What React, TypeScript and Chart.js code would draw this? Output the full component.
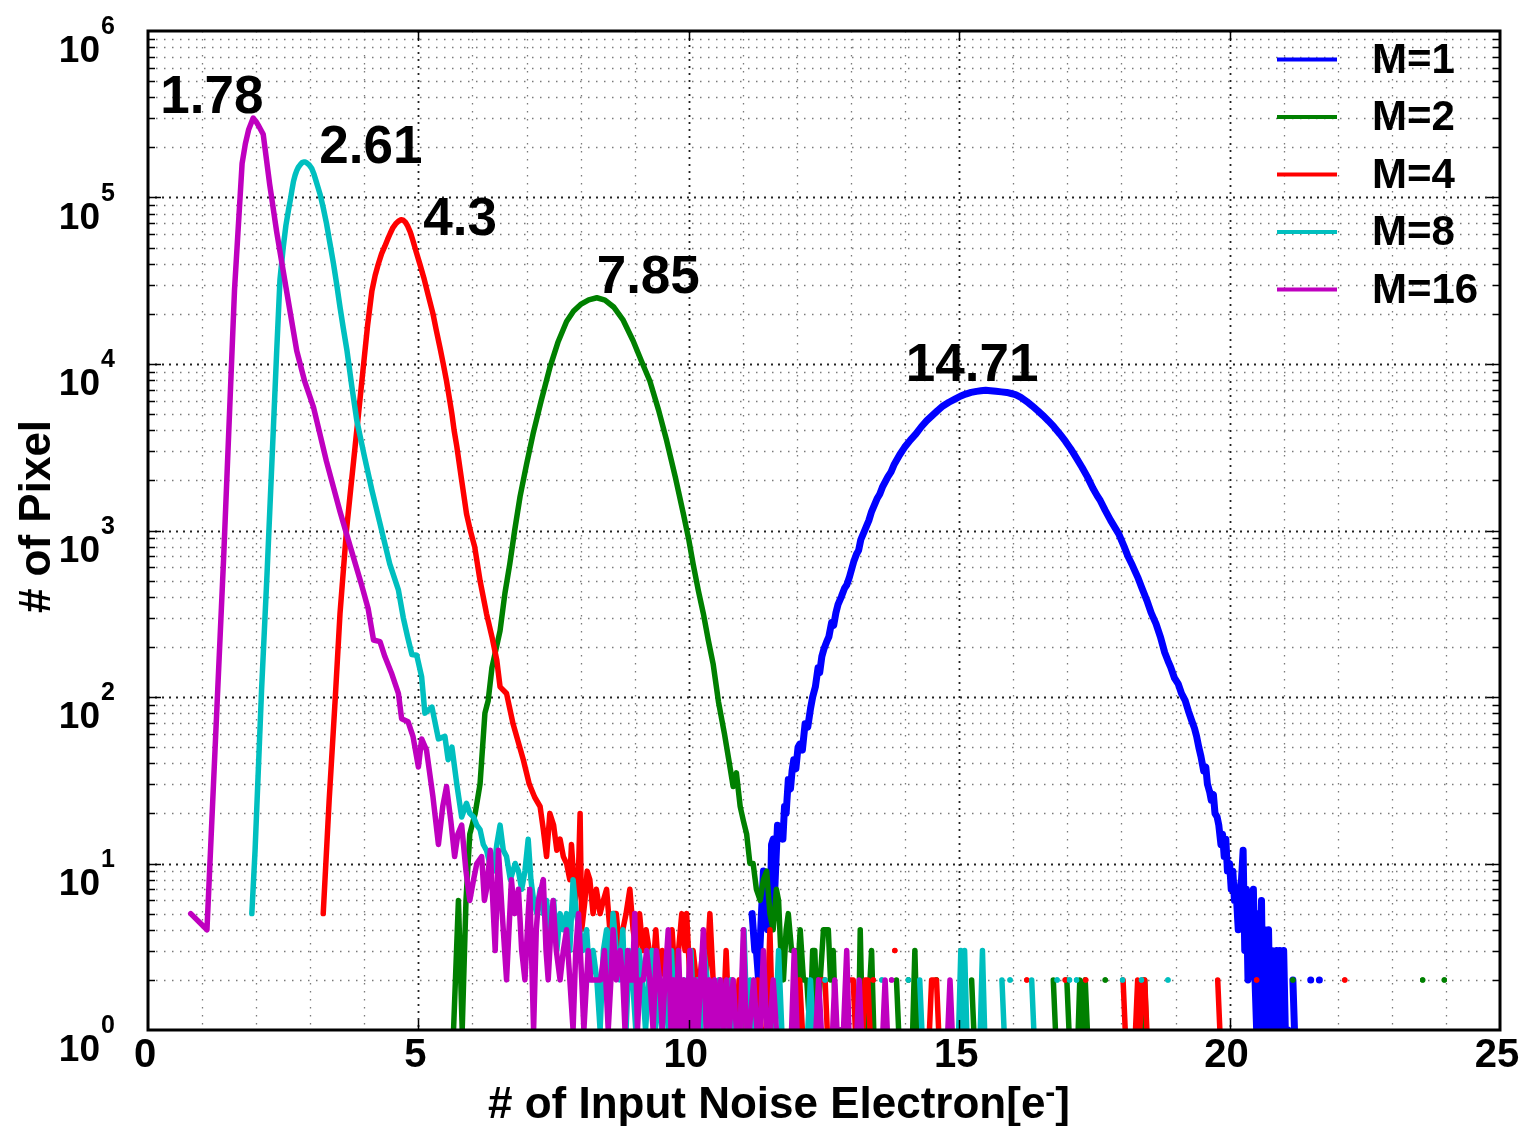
import React, { useEffect, useRef } from 'react';
import { Chart, registerables } from 'chart.js';

Chart.register(...registerables);

const W = 1527;
const H = 1126;
const FONT = '"Liberation Sans", Arial, Helvetica, sans-serif';

// ---------- series meta ----------
const seriesLabels = ['M=1', 'M=2', 'M=4', 'M=8', 'M=16'];
const seriesColors = ['#0000FF', '#008000', '#FF0000', '#00BFBF', '#BF00BF'];
const seriesWidths = [7, 5.5, 5.5, 5.5, 5.5];
const seriesOrder = [4, 3, 2, 1, 0];

// ---------- data: [noise electrons, number of pixels] (0 = empty bin) ----------
const m1Points: number[][] = [
  [11.17, 5], [11.22, 3], [11.25, 3], [11.29, 2], [11.33, 4], [11.38, 9], [11.42, 6], [11.46, 4], [11.5, 4],
  [11.53, 13], [11.56, 14], [11.59, 7], [11.64, 17], [11.67, 15], [11.71, 16], [11.74, 14], [11.77, 22],
  [11.8, 20], [11.84, 32], [11.88, 28], [11.91, 36], [11.94, 42], [11.98, 37], [12.02, 50], [12.05, 52],
  [12.1, 48], [12.15, 69], [12.2, 66], [12.25, 85], [12.29, 100], [12.34, 115], [12.39, 150], [12.42, 140],
  [12.46, 175], [12.5, 195], [12.55, 215], [12.59, 230], [12.64, 280], [12.68, 270], [12.72, 320],
  [12.76, 360], [12.82, 400], [12.88, 450], [12.92, 470], [12.97, 525], [13.05, 650], [13.1, 720],
  [13.14, 760], [13.18, 880], [13.28, 1050], [13.33, 1150], [13.38, 1300], [13.48, 1550], [13.53, 1650],
  [13.58, 1820], [13.68, 2100], [13.74, 2250], [13.8, 2500], [13.9, 2850], [13.99, 3160], [14.1, 3500],
  [14.2, 3800], [14.3, 4200], [14.4, 4570], [14.5, 4900], [14.6, 5250], [14.7, 5600], [14.81, 5890],
  [14.92, 6150], [15.02, 6400], [15.12, 6600], [15.22, 6750], [15.32, 6850], [15.4, 6900], [15.49, 6950],
  [15.58, 6900], [15.68, 6850], [15.78, 6800], [15.88, 6750], [15.96, 6650], [16.04, 6550], [16.14, 6300],
  [16.25, 5950], [16.35, 5600], [16.45, 5250], [16.55, 4900], [16.65, 4550], [16.75, 4200], [16.86, 3800],
  [16.96, 3450], [17.06, 3100], [17.16, 2750], [17.27, 2400], [17.37, 2100], [17.47, 1800], [17.55, 1620],
  [17.61, 1510], [17.7, 1320], [17.8, 1150], [17.88, 1040], [17.95, 955], [18.05, 800], [18.12, 700],
  [18.2, 620], [18.3, 525], [18.38, 450], [18.47, 380], [18.55, 320], [18.64, 275], [18.72, 230],
  [18.8, 185], [18.86, 165], [18.91, 151], [18.98, 130], [19.05, 120], [19.11, 105], [19.18, 95],
  [19.24, 82], [19.3, 72], [19.35, 65], [19.39, 58], [19.43, 50], [19.47, 44], [19.52, 36], [19.56, 38],
  [19.59, 30], [19.63, 27], [19.66, 24], [19.7, 26], [19.73, 20], [19.77, 19], [19.8, 17], [19.84, 13],
  [19.87, 15], [19.9, 11], [19.93, 14], [19.96, 9], [20.0, 10], [20.03, 7], [20.06, 9], [20.09, 6],
  [20.13, 6], [20.16, 4], [20.19, 7], [20.22, 8], [20.25, 12], [20.28, 3], [20.31, 7], [20.34, 2],
  [20.37, 5], [20.4, 6], [20.44, 7], [20.47, 2], [20.5, 1], [20.53, 5], [20.56, 2], [20.59, 6], [20.62, 1],
  [20.65, 4], [20.68, 1], [20.72, 4], [20.75, 1], [20.78, 3], [20.81, 1], [20.85, 2], [20.87, 3], [20.9, 1],
  [20.93, 3], [20.96, 1], [21.0, 3], [21.03, 1], [21.08, 1], [21.12, 0], [21.17, 2], [21.2, 1], [21.24, 0],
  [21.46, 0], [21.5, 2], [21.54, 0], [21.62, 0], [21.66, 2], [21.7, 0],
];

const m2Points: number[][] = [
  [5.65, 1], [5.74, 6], [5.81, 1], [5.88, 6], [5.95, 15], [6.05, 20], [6.14, 30], [6.23, 80], [6.29, 95],
  [6.36, 150], [6.51, 250], [6.6, 420], [6.69, 630], [6.78, 1000], [6.88, 1600], [7.0, 2500], [7.12, 3800],
  [7.27, 6000], [7.43, 9500], [7.58, 13500], [7.74, 18000], [7.87, 20800], [8.0, 22800], [8.15, 24300],
  [8.3, 25000], [8.45, 24200], [8.61, 22000], [8.78, 18500], [8.97, 13800], [9.12, 10500], [9.28, 7900],
  [9.44, 5300], [9.59, 3470], [9.75, 2100], [9.9, 1260], [10.0, 880], [10.08, 630], [10.18, 430],
  [10.27, 316], [10.36, 220], [10.45, 158], [10.55, 93], [10.66, 60], [10.75, 40], [10.82, 29], [10.88, 35],
  [10.95, 22], [11.01, 18], [11.07, 15], [11.13, 10], [11.19, 10], [11.25, 7], [11.32, 6], [11.38, 8],
  [11.44, 9], [11.5, 5], [11.56, 4], [11.62, 7], [11.66, 6], [11.7, 3], [11.75, 2], [11.8, 4], [11.84, 5],
  [11.9, 3], [11.96, 3], [12.01, 2], [12.06, 4], [12.12, 2], [12.18, 2], [12.24, 1], [12.29, 3], [12.33, 3],
  [12.38, 1], [12.43, 2], [12.49, 4], [12.52, 4], [12.58, 4], [12.62, 2], [12.67, 3], [12.72, 1], [12.8, 1],
  [12.88, 0], [13.1, 0], [13.14, 1], [13.17, 4], [13.21, 1], [13.3, 1], [13.38, 3], [13.42, 1], [13.5, 0],
  [13.8, 0], [13.84, 2], [13.88, 1], [13.95, 0], [14.02, 0], [14.06, 2], [14.1, 0], [14.14, 1], [14.18, 3],
  [14.22, 1], [14.3, 0], [14.54, 0], [14.58, 2], [14.62, 0], [15.18, 0], [15.23, 2], [15.27, 1], [15.3, 0],
  [16.7, 0], [16.74, 2], [16.78, 1], [16.82, 0], [16.95, 0], [16.99, 2], [17.03, 1], [17.06, 0], [17.2, 1],
  [17.23, 2], [17.28, 1], [17.33, 2], [17.37, 1], [17.4, 0], [17.66, 0], [17.7, 2], [17.74, 0], [18.4, 1],
  [18.43, 2], [18.46, 1], [18.5, 0], [21.13, 0], [21.17, 2], [21.21, 0], [23.53, 0], [23.57, 2], [23.61, 0],
  [23.93, 0], [23.97, 2], [24.01, 0],
];

const m4Points: number[][] = [
  [3.24, 5], [3.35, 24], [3.46, 95], [3.55, 316], [3.67, 1000], [3.75, 1800], [3.83, 3200], [3.9, 5300],
  [3.98, 9500], [4.06, 17000], [4.14, 27500], [4.2, 34000], [4.26, 40000], [4.32, 46000], [4.38, 51000],
  [4.43, 56000], [4.48, 61000], [4.53, 66000], [4.58, 69500], [4.63, 72000], [4.68, 73500], [4.72, 73000],
  [4.76, 71000], [4.8, 67500], [4.85, 62000], [4.9, 55000], [4.96, 47000], [5.03, 39500], [5.1, 33000],
  [5.18, 26000], [5.27, 20000], [5.33, 16000], [5.4, 12500], [5.46, 10000], [5.52, 7900], [5.57, 6300],
  [5.62, 5000], [5.66, 4000], [5.71, 3200], [5.8, 2000], [5.89, 1260], [5.96, 1000], [6.04, 800], [6.14, 500],
  [6.26, 316], [6.36, 230], [6.45, 166], [6.51, 115], [6.63, 105], [6.75, 69], [6.94, 42], [7.05, 30],
  [7.15, 25], [7.25, 22], [7.31, 16], [7.37, 11], [7.43, 20], [7.5, 17], [7.56, 12], [7.62, 14], [7.68, 11],
  [7.74, 10], [7.8, 8], [7.83, 13], [7.9, 6], [7.96, 9], [7.99, 20], [8.02, 4], [8.08, 6], [8.12, 9],
  [8.17, 8], [8.23, 5], [8.29, 7], [8.36, 5], [8.42, 6], [8.48, 7], [8.54, 4], [8.6, 5], [8.66, 5], [8.72, 3],
  [8.78, 4], [8.84, 5], [8.91, 7], [8.97, 4], [9.03, 3], [9.09, 5], [9.15, 3], [9.21, 4], [9.27, 3], [9.33, 2],
  [9.39, 4], [9.45, 2], [9.51, 3], [9.57, 2], [9.63, 3], [9.69, 4], [9.75, 2], [9.81, 3], [9.87, 5], [9.93, 3],
  [9.96, 5], [10.02, 2], [10.08, 3], [10.14, 2], [10.2, 2], [10.26, 3], [10.32, 2], [10.39, 5], [10.45, 2],
  [10.51, 1], [10.57, 2], [10.63, 1], [10.69, 3], [10.75, 1], [10.81, 2], [10.87, 1], [10.93, 2], [11.0, 1],
  [11.06, 2], [11.12, 1], [11.2, 1], [11.28, 2], [11.34, 1], [11.44, 1], [11.5, 4], [11.55, 1], [11.65, 0],
  [11.95, 0], [12.0, 1], [12.05, 2], [12.1, 1], [12.2, 0], [12.38, 0], [12.42, 2], [12.47, 2], [12.52, 2],
  [12.56, 1], [12.62, 0], [12.94, 0], [12.98, 2], [13.04, 2], [13.08, 1], [13.14, 0], [13.22, 1], [13.26, 2],
  [13.31, 2], [13.35, 1], [13.38, 0], [13.41, 2], [13.45, 0], [13.77, 0], [13.81, 3], [13.85, 0], [14.45, 1],
  [14.49, 2], [14.54, 2], [14.58, 2], [14.62, 1], [14.66, 0], [16.21, 0], [16.25, 2], [16.29, 0], [16.92, 0],
  [16.96, 2], [17.0, 0], [17.3, 0], [17.34, 2], [17.38, 0], [17.99, 0], [18.03, 2], [18.07, 1], [18.1, 0],
  [18.26, 1], [18.3, 2], [18.34, 1], [18.39, 2], [18.43, 2], [18.47, 1], [18.5, 0], [19.74, 0], [19.78, 2],
  [19.82, 1], [19.86, 0], [20.46, 0], [20.5, 2], [20.54, 0], [22.09, 0], [22.13, 2], [22.17, 0],
];

const m8Points: number[][] = [
  [1.92, 5], [1.98, 12], [2.1, 110], [2.2, 540], [2.3, 3000], [2.38, 12000], [2.44, 32000], [2.5, 50000],
  [2.55, 68000], [2.6, 85000], [2.63, 96000], [2.66, 110000], [2.69, 125000], [2.72, 136000],
  [2.75, 145000], [2.78, 152000], [2.82, 158000], [2.85, 162000], [2.88, 163500], [2.91, 163500],
  [2.94, 161000], [2.98, 157000], [3.03, 149000], [3.07, 138000], [3.1, 128000], [3.14, 116000],
  [3.18, 105000], [3.24, 87000], [3.3, 70000], [3.36, 54000], [3.43, 40000], [3.49, 30000], [3.55, 22000],
  [3.61, 16500], [3.68, 12000], [3.77, 7300], [3.86, 4600], [4.0, 2800], [4.14, 1750], [4.29, 1100],
  [4.47, 630], [4.63, 440], [4.72, 300], [4.8, 230], [4.88, 180], [4.97, 178], [5.06, 132], [5.12, 80],
  [5.25, 87], [5.37, 56], [5.49, 58], [5.55, 42], [5.62, 50], [5.71, 30], [5.8, 19], [5.89, 23], [5.95, 20],
  [6.02, 19], [6.08, 17], [6.14, 16], [6.2, 13], [6.26, 12], [6.32, 10], [6.39, 9], [6.45, 13], [6.51, 17],
  [6.57, 12], [6.63, 11], [6.7, 8], [6.79, 10], [6.85, 9], [6.91, 7], [6.97, 9], [7.03, 14], [7.08, 8],
  [7.13, 6], [7.19, 5], [7.25, 7], [7.31, 5], [7.37, 6], [7.43, 4], [7.5, 6], [7.56, 3], [7.62, 5], [7.68, 4],
  [7.74, 5], [7.8, 3], [7.86, 8], [7.92, 5], [7.98, 4], [8.04, 3], [8.11, 4], [8.17, 2], [8.23, 3], [8.3, 2],
  [8.36, 1], [8.42, 3], [8.48, 4], [8.54, 2], [8.6, 5], [8.66, 3], [8.72, 2], [8.78, 4], [8.84, 1], [8.9, 3],
  [8.96, 2], [9.02, 1], [9.08, 3], [9.14, 2], [9.2, 1], [9.26, 2], [9.32, 3], [9.38, 1], [9.44, 2], [9.5, 1],
  [9.56, 2], [9.62, 1], [9.68, 3], [9.74, 1], [9.8, 2], [9.86, 1], [9.92, 2], [9.98, 1], [10.04, 3], [10.1, 1],
  [10.16, 2], [10.22, 1], [10.28, 3], [10.34, 2], [10.4, 1], [10.5, 1], [10.56, 2], [10.62, 1], [10.7, 1],
  [10.78, 2], [10.84, 1], [10.96, 1], [11.02, 4], [11.08, 1], [11.14, 2], [11.2, 1], [11.3, 0], [11.55, 0],
  [11.6, 1], [11.66, 3], [11.72, 1], [11.8, 0], [12.15, 0], [12.2, 1], [12.25, 2], [12.3, 1], [12.35, 0],
  [12.48, 0], [12.52, 2], [12.56, 0], [12.88, 0], [12.92, 2], [12.96, 0], [13.53, 0], [13.57, 2], [13.61, 0],
  [14.02, 0], [14.06, 2], [14.1, 0], [14.23, 0], [14.27, 2], [14.31, 1], [14.35, 0], [14.95, 0], [14.99, 1],
  [15.03, 3], [15.07, 1], [15.1, 3], [15.14, 1], [15.2, 0], [15.36, 0], [15.39, 1], [15.43, 3], [15.47, 1],
  [15.5, 0], [15.75, 0], [15.79, 2], [15.83, 1], [15.86, 0], [15.9, 0], [15.94, 2], [15.98, 0], [16.3, 0],
  [16.34, 2], [16.38, 1], [16.42, 0], [16.77, 0], [16.81, 2], [16.85, 0], [17.0, 0], [17.04, 2], [17.08, 0],
  [17.13, 0], [17.17, 2], [17.21, 0], [17.98, 0], [18.02, 2], [18.06, 0], [18.33, 0], [18.37, 2], [18.41, 0],
  [18.82, 0], [18.86, 2], [18.9, 0],
];

const m16Points: number[][] = [
  [0.79, 5], [1.09, 4], [1.4, 700], [1.6, 28000], [1.74, 160000], [1.8, 210000], [1.86, 255000],
  [1.945, 300000], [2.0, 285000], [2.05, 268000], [2.13, 240000], [2.25, 120000], [2.38, 62000],
  [2.55, 29000], [2.75, 12000], [2.9, 7800], [3.06, 5500], [3.3, 2600], [3.55, 1300], [3.74, 800],
  [3.95, 470], [4.07, 340], [4.17, 220], [4.29, 215], [4.38, 175], [4.5, 140], [4.63, 105], [4.69, 74],
  [4.81, 71], [4.9, 58], [5.0, 38], [5.06, 56], [5.15, 48], [5.27, 25], [5.37, 13], [5.45, 22], [5.52, 29],
  [5.6, 18], [5.67, 11], [5.73, 15], [5.8, 17], [5.88, 9], [5.95, 6], [6.02, 8], [6.08, 10], [6.17, 11],
  [6.22, 6], [6.26, 7], [6.33, 12], [6.42, 3], [6.48, 12], [6.55, 5], [6.63, 2], [6.72, 8], [6.78, 5],
  [6.85, 7], [6.91, 3], [6.97, 2], [7.03, 5], [7.06, 7], [7.13, 1], [7.18, 4], [7.22, 6], [7.31, 8], [7.36, 3],
  [7.4, 2], [7.45, 4], [7.49, 6], [7.55, 3], [7.62, 2], [7.68, 3], [7.74, 4], [7.8, 2], [7.86, 1], [7.91, 3],
  [7.96, 5], [8.02, 2], [8.06, 1], [8.14, 3], [8.19, 2], [8.23, 2], [8.3, 2], [8.37, 2], [8.44, 3], [8.51, 1],
  [8.56, 2], [8.6, 4], [8.66, 2], [8.73, 3], [8.78, 2], [8.82, 1], [8.87, 3], [8.91, 2], [8.96, 2], [9.0, 5],
  [9.05, 1], [9.1, 2], [9.16, 2], [9.22, 3], [9.28, 2], [9.34, 1], [9.4, 3], [9.46, 2], [9.51, 1], [9.56, 2],
  [9.62, 4], [9.67, 1], [9.72, 2], [9.76, 1], [9.81, 3], [9.86, 1], [9.91, 2], [9.96, 1], [10.02, 3],
  [10.07, 1], [10.12, 2], [10.17, 1], [10.22, 2], [10.27, 4], [10.32, 1], [10.38, 2], [10.43, 1], [10.48, 2],
  [10.53, 1], [10.59, 2], [10.64, 1], [10.7, 2], [10.75, 1], [10.82, 2], [10.88, 1], [10.95, 1], [11.01, 4],
  [11.06, 1], [11.12, 1], [11.2, 2], [11.26, 1], [11.32, 1], [11.38, 3], [11.44, 1], [11.5, 1], [11.56, 2],
  [11.62, 1], [11.7, 0], [11.85, 0], [11.9, 1], [11.95, 3], [12.0, 1], [12.1, 0], [12.3, 0], [12.35, 1],
  [12.4, 2], [12.45, 1], [12.5, 0], [12.62, 0], [12.66, 1], [12.7, 2], [12.74, 1], [12.8, 1], [12.86, 1],
  [12.92, 3], [12.96, 1], [13.02, 0], [13.11, 1], [13.15, 2], [13.19, 1], [13.24, 0], [13.59, 1], [13.63, 2],
  [13.67, 1], [13.71, 0], [13.75, 2], [13.79, 0], [14.79, 1], [14.83, 2], [14.87, 1], [14.9, 0],
];

const seriesPoints = [m1Points, m2Points, m4Points, m8Points, m16Points];

// ---------- axes ----------
const xMin = 0;
const xMax = 25;
const xTickValues = [0, 5, 10, 15, 20, 25];
const xTickLabels = ['0', '5', '10', '15', '20', '25'];
const yMin = 1;
const yMax = 1000000;
const yTickValues = [1, 10, 100, 1000, 10000, 100000, 1000000];
const yTickExponents = ['0', '1', '2', '3', '4', '5', '6'];
const xTitleMain = '# of Input Noise Electron[e';
const xTitleSup = '-';
const xTitleEnd = ']';
const yTitle = '# of Pixel';

// ---------- peak annotations (label centre x, baseline y, in data units) ----------
const peakLabels = ['1.78', '2.61', '4.3', '7.85', '14.71'];
const peakLabelX = [1.18, 4.12, 5.77, 9.25, 15.24];
const peakLabelY = [322000, 161000, 59600, 26700, 7900];

function toXY(points: number[][]) {
  return points.map(([x, c]) => ({ x, y: c > 0 ? c : null }));
}

function isolatedRadius(ctx: any) {
  const d = ctx.dataset.data as any[];
  const i = ctx.dataIndex;
  const cur = d[i];
  if (!cur || cur.y == null) return 0;
  const prev = d[i - 1];
  const next = d[i + 1];
  const pNull = !prev || prev.y == null;
  const nNull = !next || next.y == null;
  return pNull && nNull ? 2.6 : 0;
}

function seg(ctx: CanvasRenderingContext2D, x1: number, y1: number, x2: number, y2: number) {
  ctx.beginPath();
  ctx.moveTo(x1, y1);
  ctx.lineTo(x2, y2);
  ctx.stroke();
}

const decorPlugin = {
  id: 'decor',
  beforeDatasetsDraw(chart: any) {
    const { ctx, chartArea: a, scales } = chart;
    const xs = scales.x;
    const ys = scales.y;
    ctx.save();
    // minor grid
    ctx.strokeStyle = '#7a7a7a';
    ctx.lineWidth = 1.3;
    ctx.setLineDash([1.5, 6.5]);
    for (let v = xMin + 1; v < xMax; v++) {
      if (v % 5 === 0) continue;
      const px = Math.round(xs.getPixelForValue(v)) + 0.5;
      seg(ctx, px, a.top, px, a.bottom);
    }
    for (let d = yMin; d < yMax; d *= 10) {
      for (let k = 2; k <= 9; k++) {
        const py = Math.round(ys.getPixelForValue(d * k)) + 0.5;
        seg(ctx, a.left, py, a.right, py);
      }
    }
    // major grid
    ctx.strokeStyle = '#222';
    ctx.lineWidth = 1.8;
    ctx.setLineDash([2, 5]);
    for (const v of xTickValues) {
      if (v === xMin || v === xMax) continue;
      const px = Math.round(xs.getPixelForValue(v)) + 0.5;
      seg(ctx, px, a.top, px, a.bottom);
    }
    for (const v of yTickValues) {
      if (v === yMin || v === yMax) continue;
      const py = Math.round(ys.getPixelForValue(v)) + 0.5;
      seg(ctx, a.left, py, a.right, py);
    }
    ctx.restore();
  },
  afterDatasetsDraw(chart: any) {
    const { ctx, chartArea: a, scales } = chart;
    const xs = scales.x;
    const ys = scales.y;
    ctx.save();
    ctx.setLineDash([]);
    // inner tick marks
    ctx.strokeStyle = '#000';
    ctx.lineWidth = 1.5;
    for (let d = yMin; d < yMax; d *= 10) {
      for (let k = 1; k <= 9; k++) {
        const v = d * k;
        if (v === yMin) continue;
        const py = Math.round(ys.getPixelForValue(v)) + 0.5;
        const len = k === 1 ? 13 : 7;
        seg(ctx, a.left, py, a.left + len, py);
        seg(ctx, a.right, py, a.right - len, py);
      }
    }
    for (const v of xTickValues) {
      if (v === xMin || v === xMax) continue;
      const px = Math.round(xs.getPixelForValue(v)) + 0.5;
      seg(ctx, px, a.bottom, px, a.bottom - 10);
      seg(ctx, px, a.top, px, a.top + 10);
    }
    // frame
    ctx.lineWidth = 3;
    ctx.strokeRect(a.left, a.top, a.right - a.left, a.bottom - a.top);

    ctx.fillStyle = '#000';
    // y tick labels 10^n
    ctx.textBaseline = 'alphabetic';
    yTickValues.forEach((v, i) => {
      const py = ys.getPixelForValue(v);
      ctx.font = `bold 37px ${FONT}`;
      ctx.textAlign = 'right';
      ctx.fillText('10', a.left - 48, py + 31);
      ctx.font = `bold 25px ${FONT}`;
      ctx.textAlign = 'left';
      ctx.fillText(yTickExponents[i], a.left - 47, py + 3);
    });
    // x tick labels
    ctx.font = `bold 40px ${FONT}`;
    ctx.textAlign = 'center';
    xTickValues.forEach((v, i) => {
      const px = xs.getPixelForValue(v);
      ctx.fillText(xTickLabels[i], px - 3, a.bottom + 37);
    });
    // x title with superscript
    ctx.font = `bold 44px ${FONT}`;
    const wMain = ctx.measureText(xTitleMain).width;
    const wEnd = ctx.measureText(xTitleEnd).width;
    ctx.font = `bold 30px ${FONT}`;
    const wSup = ctx.measureText(xTitleSup).width;
    const total = wMain + wSup + wEnd;
    let tx = 779 - total / 2;
    const tb = a.bottom + 88;
    ctx.textAlign = 'left';
    ctx.font = `bold 44px ${FONT}`;
    ctx.fillText(xTitleMain, tx, tb);
    tx += wMain;
    ctx.font = `bold 30px ${FONT}`;
    ctx.fillText(xTitleSup, tx, tb - 16);
    tx += wSup;
    ctx.font = `bold 44px ${FONT}`;
    ctx.fillText(xTitleEnd, tx, tb);
    // y title
    ctx.save();
    ctx.translate(50, (a.top + a.bottom) / 2 - 14);
    ctx.rotate(-Math.PI / 2);
    ctx.textAlign = 'center';
    ctx.font = `bold 44px ${FONT}`;
    ctx.fillText(yTitle, 0, 0);
    ctx.restore();
    // peak annotations
    ctx.font = `bold 53px ${FONT}`;
    ctx.textAlign = 'center';
    peakLabels.forEach((t, i) => {
      ctx.fillText(t, xs.getPixelForValue(peakLabelX[i]), ys.getPixelForValue(peakLabelY[i]));
    });
    // legend
    const lx0 = a.right - 223;
    const lx1 = a.right - 163;
    const tx0 = a.right - 128;
    seriesLabels.forEach((lab, i) => {
      const ly = a.top + 28.5 + i * 57.5;
      ctx.strokeStyle = seriesColors[i];
      ctx.lineWidth = 4;
      seg(ctx, lx0, ly, lx1, ly);
      ctx.fillStyle = '#000';
      ctx.font = `bold 42px ${FONT}`;
      ctx.textAlign = 'left';
      ctx.fillText(lab, tx0, ly + 13);
    });
    ctx.restore();
  },
};

export default function App() {
  const canvasRef = useRef<HTMLCanvasElement | null>(null);

  useEffect(() => {
    const canvas = canvasRef.current;
    if (!canvas) return;
    const datasets = seriesPoints.map((pts, i) => ({
      label: seriesLabels[i],
      data: toXY(pts),
      borderColor: seriesColors[i],
      backgroundColor: seriesColors[i],
      pointBackgroundColor: seriesColors[i],
      borderWidth: seriesWidths[i],
      pointRadius: isolatedRadius,
      pointBorderWidth: 0,
      pointHoverRadius: 0,
      tension: 0,
      spanGaps: false,
      fill: false,
      order: seriesOrder[i],
      borderJoinStyle: 'round' as const,
      borderCapStyle: 'round' as const,
    }));
    const chart = new Chart(canvas, {
      type: 'line',
      data: { datasets },
      options: {
        responsive: false,
        animation: false,
        devicePixelRatio: 1,
        events: [],
        layout: { padding: { top: 31, right: 27, left: 0, bottom: 0 } },
        plugins: { legend: { display: false }, tooltip: { enabled: false }, title: { display: false } },
        scales: {
          x: {
            type: 'linear',
            min: xMin,
            max: xMax,
            grid: { display: false },
            border: { display: false },
            ticks: { display: false },
            afterFit: (s: any) => { s.height = 96; },
          },
          y: {
            type: 'logarithmic',
            min: yMin,
            max: yMax,
            grid: { display: false },
            border: { display: false },
            ticks: { display: false },
            afterFit: (s: any) => { s.width = 148; },
          },
        },
      },
      plugins: [decorPlugin],
    } as any);
    return () => chart.destroy();
  }, []);

  return (
    <div style={{ position: 'absolute', left: 0, top: 0, width: W, height: H, background: '#fff' }}>
      <canvas ref={canvasRef} width={W} height={H} style={{ display: 'block' }} />
    </div>
  );
}
